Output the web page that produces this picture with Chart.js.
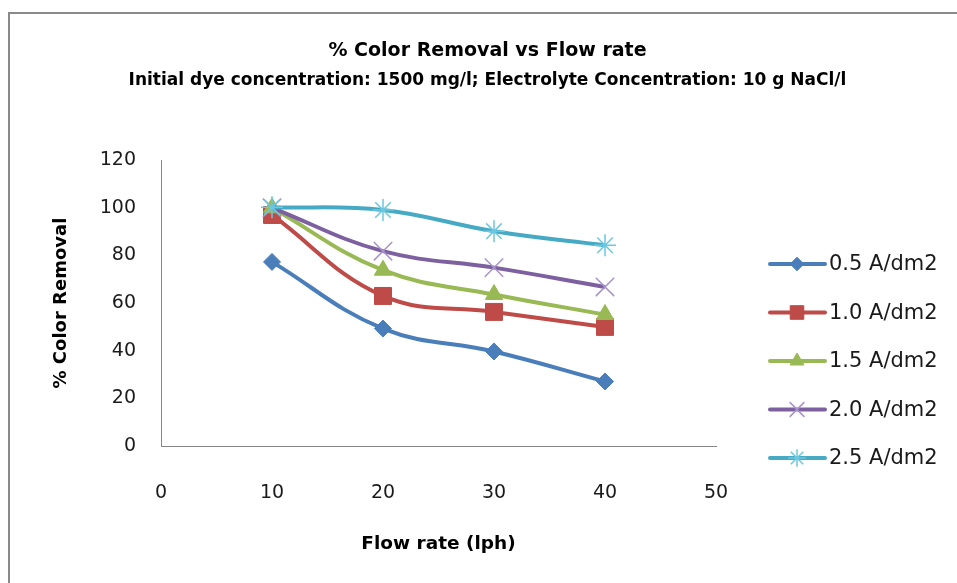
<!DOCTYPE html>
<html>
<head>
<meta charset="utf-8">
<script src="https://cdn.jsdelivr.net/npm/chart.js@4.4.0/dist/chart.umd.min.js"></script>
<style>
  html, body { margin: 0; padding: 0; background: #fff; }
  #wrap { position: relative; width: 957px; height: 583px; overflow: hidden; }
  #frame { position: absolute; left: 8px; top: 12px; width: 1000px; height: 700px;
           border-left: 2px solid #8a8a8a; border-top: 2px solid #8a8a8a; }
  canvas { position: absolute; left: 0; top: 0; }
</style>
</head>
<body>
<div id="wrap">
  <div id="frame"></div>
  <canvas id="chart" width="957" height="583"></canvas>
</div>
<script>
(function () {
  // ==== Datos ====
  const flowRate = [10, 20, 30, 40];               // lph
  const seriesNames = ['0.5 A/dm2', '1.0 A/dm2', '1.5 A/dm2', '2.0 A/dm2', '2.5 A/dm2'];
  const rem05 = [77.3, 49.3, 39.7, 27.1];
  const rem10 = [97.0, 63.0, 56.3, 50.0];
  const rem15 = [100.0, 73.8, 63.6, 55.2];
  const rem20 = [100.0, 81.8, 74.9, 66.8];
  const rem25 = [100.2, 99.1, 90.2, 84.3];
  const xTicks = [0, 10, 20, 30, 40, 50];
  const yTicks = [0, 20, 40, 60, 80, 100, 120];

  const FONT = "'DejaVu Sans', 'Open Sans', sans-serif";

  // estilo de cada serie (Excel 2007)
  const styles = [
    { color: '#4A7EBB', point: 'rectRot',  r: 8.5, border: '#4A7EBB', bw: 1 },
    { color: '#BE4B48', point: 'rect',     r: 12,  border: '#BE4B48', bw: 1 },
    { color: '#98B954', point: 'triangle', r: 10,  border: '#98B954', bw: 1 },
    { color: '#7D60A0', point: 'crossRot', r: 13,  border: '#A893CC', bw: 1.5 },
    { color: '#46AAC5', point: 'star',     r: 11,  border: '#6CC8E0', bw: 1.5 }
  ];
  const values = [rem05, rem10, rem15, rem20, rem25];

  const datasets = values.map((vals, i) => ({
    label: seriesNames[i],
    data: flowRate.map((x, j) => ({ x: x, y: vals[j] })),
    showLine: true,
    tension: 0.4,
    borderColor: styles[i].color,
    borderWidth: 4,
    backgroundColor: styles[i].color,
    pointStyle: styles[i].point,
    pointRadius: styles[i].r,
    pointBackgroundColor: styles[i].color,
    pointBorderColor: styles[i].border,
    pointBorderWidth: styles[i].bw,
    order: values.length - i,
    clip: false
  }));

  // ==== Leyenda estilo Excel (línea + marcador) ====
  const excelLegend = {
    id: 'excelLegend',
    afterDraw(chart) {
      const ctx = chart.ctx;
      const x0 = 770, x1 = 825, xm = 797, xt = 829;
      const yStart = 264, step = 48.5;
      ctx.save();
      chart.data.datasets.forEach((ds, i) => {
        const y = yStart + i * step;
        ctx.strokeStyle = ds.borderColor;
        ctx.lineWidth = 4;
        ctx.lineCap = 'round';
        ctx.beginPath();
        ctx.moveTo(x0, y);
        ctx.lineTo(x1, y);
        ctx.stroke();
        ctx.fillStyle = ds.pointBackgroundColor;
        ctx.strokeStyle = ds.pointBorderColor;
        ctx.lineWidth = ds.pointBorderWidth;
        ctx.lineCap = 'butt';
        if (Chart.helpers && Chart.helpers.drawPoint) {
          Chart.helpers.drawPoint(ctx, {
            pointStyle: ds.pointStyle,
            radius: ds.pointRadius * 0.8,
            borderWidth: ds.pointBorderWidth,
            rotation: 0
          }, xm, y);
        }
        ctx.fillStyle = '#1a1a1a';
        ctx.font = '21px ' + FONT;
        ctx.textAlign = 'left';
        ctx.textBaseline = 'middle';
        ctx.fillText(ds.label, xt, y + 1);
      });
      ctx.restore();
    }
  };

  const canvas = document.getElementById('chart');
  new Chart(canvas, {
    type: 'scatter',
    data: { datasets: datasets },
    plugins: [excelLegend],
    options: {
      responsive: false,
      animation: false,
      events: [],
      layout: { padding: { left: 18, right: 0, top: 0, bottom: 18 } },
      plugins: {
        legend: { display: false },
        tooltip: { enabled: false },
        title: {
          display: true,
          text: '% Color Removal vs Flow rate',
          color: '#000',
          font: { family: FONT, size: 19, weight: 'bold' },
          padding: { top: 40, bottom: 4 }
        },
        subtitle: {
          display: true,
          text: 'Initial dye concentration: 1500 mg/l; Electrolyte Concentration: 10 g NaCl/l',
          color: '#000',
          font: { family: FONT, size: 17, weight: 'bold' },
          padding: { top: 4, bottom: 69 }
        }
      },
      scales: {
        x: {
          type: 'linear',
          min: xTicks[0],
          max: xTicks[xTicks.length - 1],
          afterBuildTicks(scale) { scale.ticks = xTicks.map(v => ({ value: v })); },
          afterFit(scale) { scale.height = 119; },
          grid: { display: true, drawOnChartArea: false, drawTicks: false },
          border: { display: true, color: '#868686', width: 1 },
          ticks: { color: '#1a1a1a', padding: 36, font: { family: FONT, size: 19 } },
          title: {
            display: true,
            text: 'Flow rate (lph)',
            color: '#000',
            font: { family: FONT, size: 18.5, weight: 'bold' },
            padding: { top: 0, bottom: 10 }
          }
        },
        y: {
          type: 'linear',
          min: yTicks[0],
          max: yTicks[yTicks.length - 1],
          afterBuildTicks(scale) { scale.ticks = yTicks.map(v => ({ value: v })); },
          afterFit(scale) { scale.width = 143; },
          grid: { display: true, drawOnChartArea: false, drawTicks: false },
          border: { display: true, color: '#868686', width: 1 },
          ticks: { color: '#1a1a1a', padding: 25, font: { family: FONT, size: 19 } },
          title: {
            display: true,
            text: '% Color Removal',
            color: '#000',
            font: { family: FONT, size: 18, weight: 'bold' },
            padding: { top: 33, bottom: 0 }
          }
        },
        // eje vacío a la derecha: reserva el espacio de la leyenda
        legendSpace: {
          type: 'linear',
          position: 'right',
          display: true,
          afterFit(scale) { scale.width = 241; },
          grid: { display: false },
          border: { display: false },
          ticks: { display: false }
        }
      }
    }
  });
})();
</script>
</body>
</html>
